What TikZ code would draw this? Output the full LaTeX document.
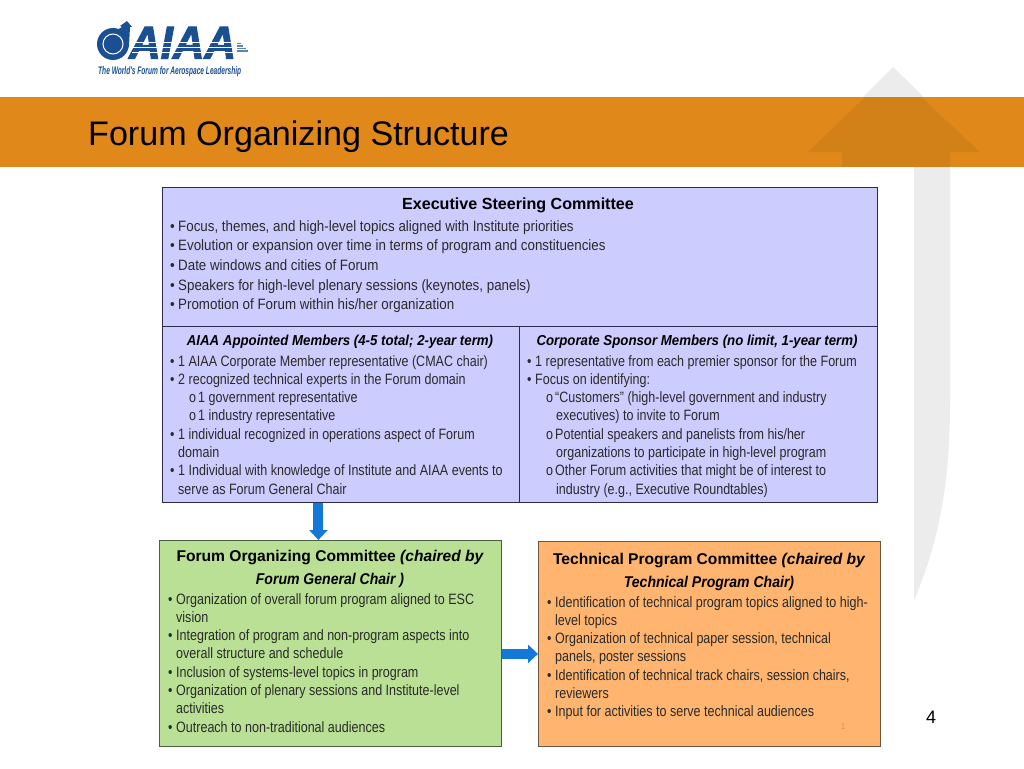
\documentclass[tikz,border=0pt]{standalone}
\usepackage{fontspec}
\setmainfont{Liberation Sans}
\newfontfamily\bodyfont[FakeStretch=0.835]{Liberation Sans}
\newfontfamily\escfont[FakeStretch=0.89]{Liberation Sans}
\newfontfamily\headfont[FakeStretch=0.92]{Liberation Sans}
\newfontfamily\narrowfont[FakeStretch=0.9]{Liberation Sans}
\newfontfamily\logofont[FakeBold=2.5,FakeStretch=0.95]{Liberation Sans}
\newfontfamily\tagfont[FakeStretch=0.6]{Liberation Sans}
\usetikzlibrary{arrows.meta}
\definecolor{bannerorange}{HTML}{E0881A}
\definecolor{ghostgray}{HTML}{ECECEC}
\definecolor{aiaablue}{HTML}{1B4F93}
\definecolor{escfill}{HTML}{CCCCFF}
\definecolor{escedge}{HTML}{2B2B4F}
\definecolor{focfill}{HTML}{BAE096}
\definecolor{focedge}{HTML}{4C6040}
\definecolor{tpcfill}{HTML}{FFB56F}
\definecolor{tpcedge}{HTML}{6A5540}
\definecolor{linkblue}{HTML}{1478D8}
\definecolor{bodyink}{HTML}{2A2A2A}
\newcommand{\itm}{\makebox[8pt][l]{\textbullet}}
\newcommand{\subitm}{\hspace*{19pt}\makebox[9pt][l]{o}}
\tikzset{
  panel/.style={draw=#1,line width=0.8pt,inner sep=0pt,anchor=north west},
  bodytext/.style={anchor=north west,inner sep=0pt,align=left,text=bodyink,
    font=\bodyfont\fontsize{15}{18.3}\selectfont},
  headtext/.style={inner sep=0pt,align=center,text=black,
    font=\fontsize{15.6}{23}\selectfont\bfseries},
  subhead/.style={inner sep=0pt,text=black,font=\headfont\fontsize{14.4}{18}\selectfont\bfseries\itshape},
  link/.style={linkblue,line width=10pt,-{Triangle[length=10pt,width=18pt]}},
}
\begin{document}
\begin{tikzpicture}[x=1pt,y=-1pt]
\useasboundingbox (0,0) rectangle (1024,768);
\fill[white] (0,0) rectangle (1024,768);
% background arrow
\fill[ghostgray] (893,67) -- (980,152) -- (950,152) -- (950,400) .. controls (950,480) and (940,540) .. (914,600) -- (914,152) -- (808,152) -- cycle;
% banner
\fill[bannerorange] (0,97) rectangle (1024,167);
\fill[black,opacity=0.06] (865,97) -- (921,97) -- (980,152) -- (950,152) -- (950,167) -- (842,167) -- (842,152) -- (808,152) -- cycle;
\node[anchor=base west,inner sep=0pt,font=\fontsize{34.1}{38}\selectfont] (title) at (88,145) {Forum Organizing Structure};
% logo
\fill[aiaablue] (113,44) circle (16);
\fill[aiaablue] (117,30) -- (122,27) -- (120,26) -- (127,21) -- (132,27) -- (130,27) -- (129,46) -- (120,46) -- cycle;
\draw[white,line width=1pt] (113,44) circle (10);
\node[anchor=base west,inner sep=0pt,text=aiaablue,font=\logofont\fontsize{46}{46}\selectfont\bfseries\itshape] (logotext) at (129,58.5) {AIAA};
\foreach \yy in {42,47,52}
  \draw[white,line width=0.6pt] (132,\yy) -- (237,\yy);
\foreach \yy/\xx in {43.5/241,46/243,48.5/246,51/248}
  \draw[aiaablue!70,line width=1.4pt] (237,\yy) -- (\xx,\yy);
\node[anchor=west,inner sep=0pt,text=aiaablue,font=\tagfont\fontsize{11}{12}\selectfont\bfseries\itshape] (tagline) at (98,72) {The World's Forum for Aerospace Leadership};
% boxes
\node[panel=escedge,fill=escfill,minimum width=715pt,minimum height=139pt] (esc) at (161.7,187) {};
\node[panel=escedge,fill=escfill,minimum width=357pt,minimum height=176pt] (appt) at (161.7,326) {};
\node[panel=escedge,fill=escfill,minimum width=358pt,minimum height=176pt] (spons) at (518.7,326) {};
\node[panel=focedge,fill=focfill,minimum width=342pt,minimum height=206pt] (foc) at (159,540) {};
\node[panel=tpcedge,fill=tpcfill,minimum width=342pt,minimum height=205pt] (tpc) at (538,541) {};
% links
\draw[link] ([xshift=-22.2pt]appt.south) -- ([xshift=-12pt]foc.north);
\draw[link,line width=9.5pt] ([yshift=-10.5pt]foc.east) -- ([yshift=-10.5pt]foc.east -| tpc.west);
% texts
\node[headtext,font=\fontsize{16.1}{20}\selectfont\bfseries] (esctitle) at (518,205) {Executive Steering Committee};
\node[bodytext,font=\escfont\fontsize{15}{19.7}\selectfont] (escbody) at (170,220) {\itm Focus, themes, and high-level topics aligned with Institute priorities\\
\itm Evolution or expansion over time in terms of program and constituencies\\
\itm Date windows and cities of Forum\\
\itm Speakers for high-level plenary sessions (keynotes, panels)\\
\itm Promotion of Forum within his/her organization};
\node[subhead] (appthead) at (340,342) {AIAA Appointed Members (4-5 total; 2-year term)};
\node[bodytext] (apptbody) at (170,355) {\itm 1 AIAA Corporate Member representative (CMAC chair)\\
\itm 2 recognized technical experts in the Forum domain\\
\subitm 1 government representative\\
\subitm 1 industry representative\\
\itm 1 individual recognized in operations aspect of Forum\\
\hspace*{8pt}domain\\
\itm 1 Individual with knowledge of Institute and AIAA events to\\
\hspace*{8pt}serve as Forum General Chair};
\node[subhead] (sponshead) at (697,342) {Corporate Sponsor Members (no limit, 1-year term)};
\node[bodytext] (sponsbody) at (527,355) {\itm 1 representative from each premier sponsor for the Forum\\
\itm Focus on identifying:\\
\subitm “Customers” (high-level government and industry\\
\hspace*{29pt}executives) to invite to Forum\\
\subitm Potential speakers and panelists from his/her\\
\hspace*{29pt}organizations to participate in high-level program\\
\subitm Other Forum activities that might be of interest to\\
\hspace*{29pt}industry (e.g., Executive Roundtables)};
\node[headtext] (foctitle) at (330,569) {Forum Organizing Committee {\itshape (chaired by}\\{\narrowfont\itshape Forum General Chair )}};
\node[bodytext] (focbody) at (168,593) {\itm Organization of overall forum program aligned to ESC\\
\hspace*{8pt}vision\\
\itm Integration of program and non-program aspects into\\
\hspace*{8pt}overall structure and schedule\\
\itm Inclusion of systems-level topics in program\\
\itm Organization of plenary sessions and Institute-level\\
\hspace*{8pt}activities\\
\itm Outreach to non-traditional audiences};
\node[headtext] (tpctitle) at (709,572) {Technical Program Committee {\itshape (chaired by}\\{\narrowfont\itshape Technical Program Chair)}};
\node[bodytext] (tpcbody) at (547,596) {\itm Identification of technical program topics aligned to high-\\
\hspace*{8pt}level topics\\
\itm Organization of technical paper session, technical\\
\hspace*{8pt}panels, poster sessions\\
\itm Identification of technical track chairs, session chairs,\\
\hspace*{8pt}reviewers\\
\itm Input for activities to serve technical audiences};
\node[inner sep=0pt,text=tpcfill!85!black,font=\fontsize{9}{10}\selectfont] (faint) at (843,726) {1};
\node[inner sep=0pt,font=\fontsize{18}{20}\selectfont] (pagenum) at (931,717) {4};
\end{tikzpicture}
\end{document}
